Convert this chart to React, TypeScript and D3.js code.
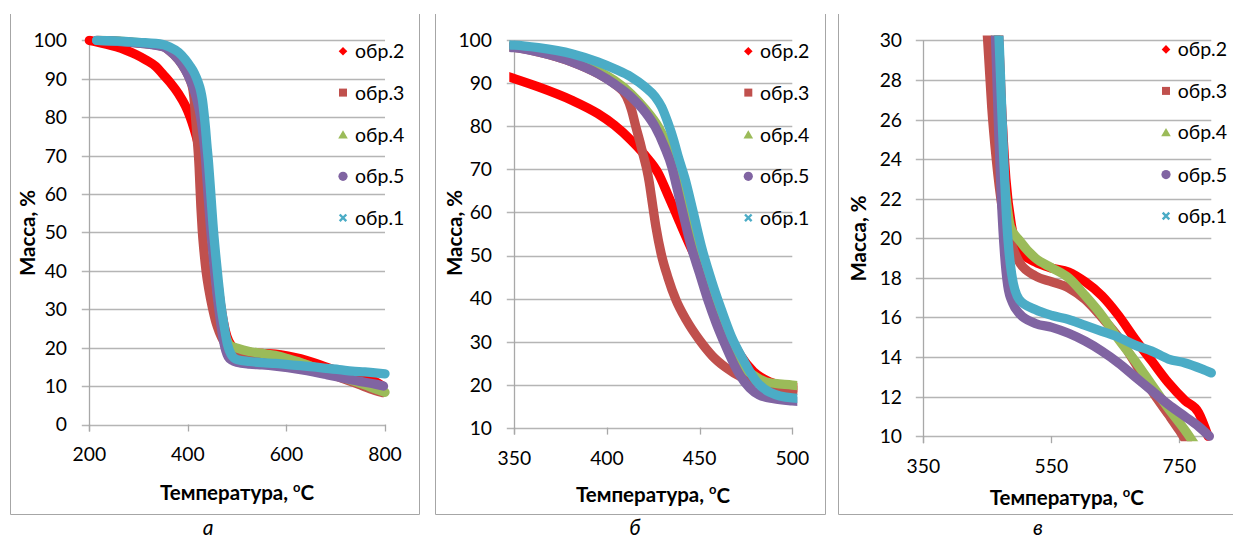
import React from 'react';
import * as d3 from 'd3';

type Pt = [number, number];

// ---- data (temperature °C, mass %) ----
const S2: Pt[] = [[200,100],[215,99.6],[235,99.0],[255,98.3],[275,97.4],[295,96.3],[315,94.9],[335,93.2],[350,91.1],[363,89.2],[381,86.1],[395,83.0],[404,80.3],[413,76.8],[420.5,73.3],[427.7,69.1],[433,64.0],[439,58.0],[444.6,52.5],[450,47.5],[455,42.3],[461,36.6],[466,31.5],[472,26.8],[479,23.0],[488,20.6],[500,19.4],[525,18.8],[550,18.5],[577,18.3],[603,17.8],[629,17.1],[655,16.1],[681,14.9],[707,13.8],[733,12.7],[759,11.8],[780,11.2],[795,10.0]];
const S3: Pt[] = [[215,100],[250,99.8],[300,99.3],[350,98.4],[363,97.3],[381,95.0],[395,92.3],[404,89.9],[410.6,86.9],[413.3,83.8],[415.6,79.9],[417.8,76.4],[419.6,73.3],[421.4,70.2],[422.8,67.1],[424,63.6],[426.4,56.7],[429.2,50.5],[432.8,45.0],[437.3,39.6],[442.8,35.0],[450,30.3],[457,26.6],[464,24.0],[473,21.6],[486,19.9],[500,18.8],[525,18.1],[551,17.8],[577,17.5],[603,16.9],[629,16.0],[655,15.0],[681,13.7],[707,12.3],[733,11.1],[750,10.3],[770,9.3],[795,8.3]];
const S4: Pt[] = [[218,100],[250,99.9],[300,99.4],[350,98.6],[363,97.6],[381,95.4],[395,93.0],[404,90.7],[413,87.6],[420.5,84.1],[427.7,79.9],[433,75.3],[437.6,69.1],[440.3,65.2],[444.5,58.5],[447.5,52.0],[451,45.8],[455.5,39.6],[460,34.2],[465,29.5],[471,25.0],[478,22.5],[486,20.6],[500,19.9],[525,19.0],[551,18.5],[577,18.0],[603,17.1],[629,16.1],[655,14.9],[681,13.8],[707,12.6],[733,11.4],[759,10.3],[780,9.3],[800,8.4]];
const S5: Pt[] = [[215,100],[250,99.8],[300,99.3],[350,98.3],[363,97.3],[381,95.0],[395,92.3],[404,89.9],[413,86.9],[420.5,83.4],[426,79.9],[431,75.3],[435,70.6],[437.6,66.0],[441,59.8],[445.5,52.0],[450,45.8],[454.5,39.6],[459,34.2],[463.5,29.5],[468,25.2],[472,22.0],[477,19.2],[482,17.6],[490,16.7],[500,16.2],[525,15.7],[551,15.5],[577,15.2],[603,14.8],[629,14.3],[655,13.7],[681,13.0],[707,12.3],[733,11.6],[759,11.0],[780,10.5],[797,10.0]];
const S1: Pt[] = [[215,100],[250,99.9],[300,99.5],[350,98.9],[363,98.3],[381,96.9],[395,95.0],[404,93.4],[413,91.5],[420.5,89.2],[426,86.9],[429.5,84.5],[433,80.7],[436,76.8],[438.5,72.9],[442,68.0],[446.4,60.3],[451,52.0],[456.3,44.3],[461.8,37.3],[467.2,31.1],[473.6,25.7],[480.5,20.8],[488,18.2],[500,16.9],[525,16.4],[551,16.1],[577,15.9],[603,15.6],[629,15.3],[655,15.0],[681,14.6],[707,14.3],[733,13.9],[759,13.7],[785,13.4],[800,13.2]];

const SERIES_NAMES = ['обр.2', 'обр.3', 'обр.4', 'обр.5', 'обр.1'];
const SERIES_DATA = [S2, S3, S4, S5, S1];
const SERIES_COLORS = ['#FF0000', '#C0504D', '#9BBB59', '#8064A2', '#4BACC6'];
const SERIES_MARKERS = ['diamond', 'square', 'triangle', 'circle', 'x'];

const A_X_TICKS = [200, 400, 600, 800];
const A_Y_TICKS = [0, 10, 20, 30, 40, 50, 60, 70, 80, 90, 100];
const B_X_TICKS = [350, 400, 450, 500];
const B_Y_TICKS = [10, 20, 30, 40, 50, 60, 70, 80, 90, 100];
const C_X_TICKS = [350, 550, 750];
const C_Y_TICKS = [10, 12, 14, 16, 18, 20, 22, 24, 26, 28, 30];
const X_TITLE = 'Температура, ';
const Y_TITLE = 'Масса, %';
const CAPTIONS = ['а', 'б', 'в'];

const FONT = "Lato, 'Open Sans', sans-serif";
const GRID = '#B5B5B5';
const AXIS = '#A8A8A8';
const FRAME = '#A6A6A6';

interface Panel {
  xDomain: [number, number]; yDomain: [number, number];
  xRange: [number, number]; yRange: [number, number];
  xTicks: number[]; yTicks: number[];
  yLabelRight: number; yTitle: [number, number]; xTitle: [number, number];
  legend: { mx: number; tx: number; ys: number[] };
  caption: string; captionX: number;
  frame: { l: number; r: number | null };
}

const PANELS: Panel[] = [
  { xDomain: [200, 800], yDomain: [0, 100], xRange: [89.3, 385], yRange: [424.5, 40.4], xTicks: A_X_TICKS, yTicks: A_Y_TICKS,
    yLabelRight: 67, yTitle: [28, 233], xTitle: [237, 492.6], legend: { mx: 343, tx: 355, ys: [51.2, 92.6, 134.8, 176.3, 217.8] },
    caption: CAPTIONS[0], captionX: 208, frame: { l: 10.5, r: 419.5 } },
  { xDomain: [350, 500], yDomain: [10, 100], xRange: [514.3, 792.3], yRange: [427.6, 40.4], xTicks: B_X_TICKS, yTicks: B_Y_TICKS,
    yLabelRight: 492, yTitle: [455, 233], xTitle: [653, 495], legend: { mx: 748.3, tx: 760, ys: [51.2, 92.6, 134.8, 176.3, 217.8] },
    caption: CAPTIONS[1], captionX: 635, frame: { l: 435.5, r: 825.5 } },
  { xDomain: [350, 800], yDomain: [10, 30], xRange: [923.3, 1211.3], yRange: [436.2, 40.4], xTicks: C_X_TICKS, yTicks: C_Y_TICKS,
    yLabelRight: 902, yTitle: [858.3, 238.5], xTitle: [1066.7, 497.7], legend: { mx: 1166, tx: 1177.7, ys: [49.4, 90.9, 132.4, 174.6, 216] },
    caption: CAPTIONS[2], captionX: 1038, frame: { l: 838.5, r: null } },
];

function Marker({ kind, color, x, y }: { kind: string; color: string; x: number; y: number }) {
  const r = 4.3;
  if (kind === 'diamond') return <path d={`M${x},${y - r}L${x + r},${y}L${x},${y + r}L${x - r},${y}Z`} fill={color} />;
  if (kind === 'square') return <rect x={x - 4} y={y - 4} width={8} height={8} fill={color} />;
  if (kind === 'triangle') return <path d={`M${x},${y - 4.5}L${x + 4.8},${y + 3.8}L${x - 4.8},${y + 3.8}Z`} fill={color} />;
  if (kind === 'circle') return <circle cx={x} cy={y} r={4.6} fill={color} />;
  return <path d={`M${x - 3.3},${y - 3.3}L${x + 3.3},${y + 3.3}M${x - 3.3},${y + 3.3}L${x + 3.3},${y - 3.3}`} stroke={color} strokeWidth={2.4} />;
}

function PanelView({ p, idx }: { p: Panel; idx: number }) {
  const x = d3.scaleLinear().domain(p.xDomain).range(p.xRange);
  const y = d3.scaleLinear().domain(p.yDomain).range(p.yRange);
  const line = d3.line<Pt>().x(d => x(d[0])).y(d => y(d[1])).curve(d3.curveMonotoneX);
  const [x0, x1] = p.xRange;
  const [yb, yt] = p.yRange;
  const clipId = `clip${idx}`;
  const m = 5;
  return (
    <g>
      <defs>
        <clipPath id={clipId}>
          <rect x={x0 - m} y={yt - m} width={x1 - x0 + 2 * m} height={yb - yt + 2 * m} />
        </clipPath>
      </defs>
      {/* frame */}
      <line x1={p.frame.l} x2={p.frame.l} y1={14} y2={514.5} stroke={FRAME} strokeWidth={1} />
      <line x1={p.frame.l} x2={p.frame.r ?? 1233} y1={514.5} y2={514.5} stroke={FRAME} strokeWidth={1} />
      {p.frame.r !== null && <line x1={p.frame.r} x2={p.frame.r} y1={14} y2={514.5} stroke={FRAME} strokeWidth={1} />}
      {/* gridlines */}
      {p.yTicks.map(v => (
        <line key={'g' + v} x1={x0 - 7.5} x2={x1} y1={Math.round(y(v)) + 0.5} y2={Math.round(y(v)) + 0.5} stroke={GRID} strokeWidth={1.3} />
      ))}
      {/* axes */}
      <line x1={Math.round(x0) + 0.5} x2={Math.round(x0) + 0.5} y1={yt} y2={yb + 7} stroke={AXIS} strokeWidth={1.3} />
      {p.xTicks.map(v => (
        <line key={'t' + v} x1={Math.round(x(v)) + 0.5} x2={Math.round(x(v)) + 0.5} y1={yb} y2={yb + 7} stroke={AXIS} strokeWidth={1.3} />
      ))}
      {/* tick labels */}
      {p.yTicks.map(v => (
        <text key={'yl' + v} x={p.yLabelRight} y={y(v)} dy="0.36em" textAnchor="end" fontFamily={FONT} fontSize={19.3} fill="#000">{v}</text>
      ))}
      {p.xTicks.map(v => (
        <text key={'xl' + v} x={x(v)} y={yb + 30} dy="0.36em" textAnchor="middle" fontFamily={FONT} fontSize={19.3} fill="#000">{v}</text>
      ))}
      {/* series */}
      <g clipPath={`url(#${clipId})`}>
        {SERIES_DATA.map((data, i) => (
          <path key={'s' + i} d={line(data) ?? ''} fill="none" stroke={SERIES_COLORS[i]} strokeWidth={9.3}
            strokeLinecap="round" strokeLinejoin="round" />
        ))}
      </g>
      {/* legend */}
      {SERIES_NAMES.map((name, i) => (
        <g key={'lg' + i}>
          <Marker kind={SERIES_MARKERS[i]} color={SERIES_COLORS[i]} x={p.legend.mx} y={p.legend.ys[i]} />
          <text x={p.legend.tx} y={p.legend.ys[i]} dy="0.36em" fontFamily={FONT} fontSize={19.5} fill="#000">{name}</text>
        </g>
      ))}
      {/* axis titles */}
      <text x={p.xTitle[0]} y={p.xTitle[1]} dy="0.36em" textAnchor="middle" fontFamily={FONT} fontSize={20.5} fontWeight="bold" fill="#000">
        {X_TITLE}<tspan fontSize={13} dy="-0.65em">o</tspan><tspan dy="0.42em">C</tspan>
      </text>
      <text transform={`translate(${p.yTitle[0]},${p.yTitle[1]}) rotate(-90)`} dy="0.36em" textAnchor="middle" fontFamily={FONT} fontSize={20.5} fontWeight="bold" fill="#000">
        {Y_TITLE}
      </text>
      {/* caption */}
      <text x={p.captionX} y={535} textAnchor="middle" fontFamily={FONT} fontSize={21} fontStyle="italic" fill="#000">{p.caption}</text>
    </g>
  );
}

export default function App() {
  return (
    <svg width={1233} height={542} viewBox="0 0 1233 542" style={{ position: 'absolute', left: 0, top: 0, background: '#fff' }}>
      <rect x={0} y={0} width={1233} height={542} fill="#fff" />
      {PANELS.map((p, i) => <PanelView key={i} p={p} idx={i} />)}
    </svg>
  );
}
